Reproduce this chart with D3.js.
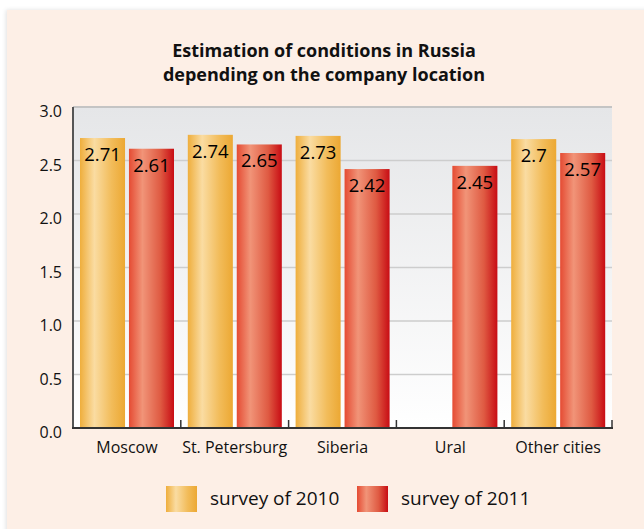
<!DOCTYPE html>
<html>
<head>
<meta charset="utf-8">
<script src="https://cdn.jsdelivr.net/npm/d3@7"></script>
<style>
  html, body { margin: 0; padding: 0; background: #ffffff; }
  svg { display: block; font-family: "Open Sans", sans-serif; }
</style>
</head>
<body>
<svg id="chart" width="644" height="529"></svg>
<script>
// ---- data ----
const categories = ["Moscow", "St. Petersburg", "Siberia", "Ural", "Other cities"];
const seriesNames = ["survey of 2010", "survey of 2011"];
const values2010 = [2.71, 2.74, 2.73, null, 2.7];
const values2011 = [2.61, 2.65, 2.42, 2.45, 2.57];
const valueLabels2010 = ["2.71", "2.74", "2.73", "", "2.7"];
const valueLabels2011 = ["2.61", "2.65", "2.42", "2.45", "2.57"];
const yTicks = [0, 0.5, 1.0, 1.5, 2.0, 2.5, 3.0];
const titleLines = ["Estimation of conditions in Russia", "depending on the company location"];

const svg = d3.select("#chart");
const defs = svg.append("defs");

// gradients
function barGrad(id, stops) {
  const g = defs.append("linearGradient").attr("id", id)
    .attr("x1", "0%").attr("x2", "100%").attr("y1", "0%").attr("y2", "0%");
  stops.forEach(s => g.append("stop").attr("offset", s[0]).attr("stop-color", s[1]));
}
barGrad("g2010", [["0%", "#efae3c"], ["32%", "#fadca2"], ["70%", "#f2bc5a"], ["100%", "#eca833"]]);
barGrad("g2011", [["0%", "#e54b33"], ["30%", "#f19478"], ["70%", "#df5a42"], ["100%", "#c80c14"]]);
const bgGrad = defs.append("linearGradient").attr("id", "plotbg")
  .attr("x1", "0%").attr("x2", "0%").attr("y1", "0%").attr("y2", "100%");
bgGrad.append("stop").attr("offset", "0%").attr("stop-color", "#e5e6e8");
bgGrad.append("stop").attr("offset", "100%").attr("stop-color", "#ffffff");

const shadow = defs.append("filter").attr("id", "shadow")
  .attr("x", "-5%").attr("y", "-5%").attr("width", "110%").attr("height", "110%");
shadow.append("feDropShadow").attr("dx", -1).attr("dy", 0).attr("stdDeviation", 2)
  .attr("flood-color", "#000").attr("flood-opacity", 0.12);

// panel
svg.append("rect").attr("x", 7).attr("y", 10).attr("width", 660).attr("height", 540)
  .attr("fill", "#fdefe6").attr("filter", "url(#shadow)");

// title
svg.append("text").attr("text-anchor", "middle").attr("font-weight", "bold")
  .attr("font-size", 18).attr("fill", "#111")
  .selectAll("tspan").data(titleLines).join("tspan")
  .attr("x", 324).attr("y", (d, i) => 57 + i * 24).text(d => d);

// scales
const plotLeft = 73, plotRight = 612, plotTop = 107, plotBottom = 428;
const x0 = d3.scaleBand().domain(categories).range([plotLeft, plotRight]).padding(0);
const x1 = d3.scaleBand().domain(seriesNames).range([7, 101]).paddingInner(0.08);
const y = d3.scaleLinear().domain([0, 3]).range([plotBottom, plotTop]);

// plot background
svg.append("rect").attr("x", plotLeft).attr("y", y(3))
  .attr("width", plotRight - plotLeft).attr("height", y(0) - y(3))
  .attr("fill", "url(#plotbg)");

// gridlines
svg.append("g").selectAll("line").data(yTicks.filter(t => t > 0)).join("line")
  .attr("x1", plotLeft).attr("x2", plotRight)
  .attr("y1", d => y(d)).attr("y2", d => y(d))
  .attr("stroke", d => d === 3 ? "#c4c4c4" : "#cdcdcd")
  .attr("stroke-width", d => d === 3 ? 2 : 1.5);

// y axis labels
svg.append("g").selectAll("text").data(yTicks).join("text")
  .attr("x", 62).attr("y", d => y(d) + 10)
  .attr("text-anchor", "end").attr("font-size", 16).attr("fill", "#111")
  .text(d => d3.format(".1f")(d));

// bars
const rows = categories.map((c, i) => ({
  cat: c,
  items: [
    { s: seriesNames[0], v: values2010[i], label: valueLabels2010[i], fill: "url(#g2010)" },
    { s: seriesNames[1], v: values2011[i], label: valueLabels2011[i], fill: "url(#g2011)" }
  ]
}));
const groups = svg.append("g").selectAll("g").data(rows).join("g")
  .attr("transform", d => `translate(${x0(d.cat)},0)`);
const items = groups.selectAll("g").data(d => d.items.filter(it => it.v != null)).join("g");
items.append("rect")
  .attr("x", d => x1(d.s)).attr("width", x1.bandwidth())
  .attr("y", d => y(d.v)).attr("height", d => y(0) - y(d.v))
  .attr("fill", d => d.fill);
items.append("text")
  .attr("x", d => x1(d.s) + x1.bandwidth() / 2).attr("y", d => y(d.v) + 23)
  .attr("text-anchor", "middle").attr("font-size", 18.5).attr("fill", "#000")
  .text(d => d.label);

// axes lines
svg.append("line").attr("x1", plotLeft).attr("x2", plotLeft).attr("y1", y(3)).attr("y2", y(0) + 1)
  .attr("stroke", "#555").attr("stroke-width", 2);
svg.append("line").attr("x1", plotLeft - 1).attr("x2", plotRight + 1).attr("y1", y(0)).attr("y2", y(0))
  .attr("stroke", "#333").attr("stroke-width", 2);
// category boundary ticks
svg.append("g").selectAll("line").data(categories).join("line")
  .attr("x1", d => x0(d) + x0.bandwidth()).attr("x2", d => x0(d) + x0.bandwidth())
  .attr("y1", y(0) - 8).attr("y2", y(0))
  .attr("stroke", "#333").attr("stroke-width", 1.5);

// x labels
svg.append("g").selectAll("text").data(categories).join("text")
  .attr("x", d => x0(d) + x0.bandwidth() / 2).attr("y", 453)
  .attr("text-anchor", "middle").attr("font-size", 16).attr("fill", "#111")
  .text(d => d);

// legend
const legendData = [
  { name: seriesNames[0], fill: "url(#g2010)", x: 166 },
  { name: seriesNames[1], fill: "url(#g2011)", x: 357 }
];
const lg = svg.append("g").selectAll("g").data(legendData).join("g")
  .attr("transform", d => `translate(${d.x},486)`);
lg.append("rect").attr("width", 31).attr("height", 26).attr("fill", d => d.fill);
lg.append("text").attr("x", 44).attr("y", 19).attr("font-size", 19).attr("fill", "#111")
  .text(d => d.name);
</script>
</body>
</html>
